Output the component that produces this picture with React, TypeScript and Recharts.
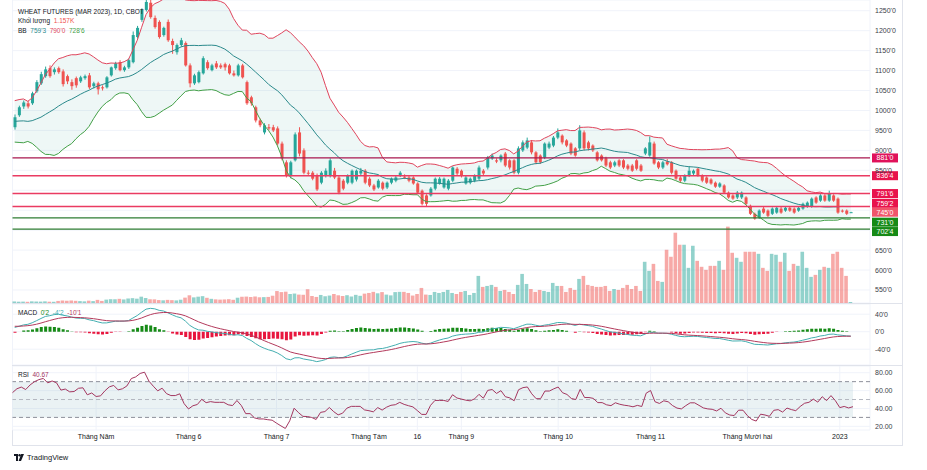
import React from 'react';
import {
  ComposedChart, Bar, Line, Area, XAxis, YAxis, CartesianGrid,
  ReferenceLine, ReferenceArea, Cell,
} from 'recharts';

// daily candles, WH23, 4 Apr 2022 .. 6 Jan 2023 (cents)
const opens = [
  958, 988, 1010, 1018, 1018, 1048, 1068, 1086, 1106, 1096,
  1106, 1098, 1086, 1071, 1081, 1073, 1081, 1088, 1061, 1068,
  1058, 1058, 1088, 1106, 1121, 1101, 1108, 1121, 1184, 1227,
  1252, 1270, 1232, 1222, 1189, 1222, 1174, 1146, 1164, 1169,
  1113, 1068, 1071, 1093, 1121, 1101, 1118, 1113, 1116, 1113,
  1093, 1088, 1113, 1071, 1033, 1008, 975, 945, 958, 958,
  955, 917, 870, 837, 875, 945, 900, 844, 844, 837,
  819, 837, 837, 849, 832, 824, 819, 819, 827, 842,
  849, 829, 812, 807, 819, 807, 819, 824, 837, 834,
  832, 832, 817, 799, 787, 787, 804, 817, 807, 804,
  824, 854, 849, 817, 819, 824, 829, 849, 857, 880,
  875, 875, 892, 875, 875, 844, 900, 907, 920, 895,
  887, 882, 907, 912, 932, 937, 925, 917, 905, 905,
  945, 920, 912, 895, 887, 880, 870, 862, 875, 875,
  862, 862, 875, 862, 892, 887, 917, 870, 857, 872,
  870, 849, 832, 824, 837, 842, 854, 837, 832, 827,
  819, 809, 812, 794, 787, 782, 782, 782, 761, 741,
  731, 754, 749, 741, 744, 754, 749, 756, 754, 749,
  754, 759, 759, 782, 774, 787, 774, 787, 779, 749,
  749, 745,
];
const highs = [
  990, 1012, 1025, 1024, 1047, 1076, 1097, 1110, 1113, 1108,
  1110, 1103, 1090, 1078, 1085, 1087, 1090, 1094, 1072, 1072,
  1063, 1086, 1110, 1122, 1126, 1112, 1130, 1198, 1212, 1256,
  1285, 1285, 1238, 1226, 1210, 1228, 1180, 1168, 1182, 1173,
  1118, 1092, 1100, 1136, 1126, 1117, 1124, 1118, 1120, 1117,
  1100, 1117, 1117, 1075, 1037, 1012, 980, 968, 966, 964,
  960, 922, 875, 874, 945, 958, 905, 850, 848, 842,
  848, 855, 880, 856, 836, 828, 840, 852, 852, 856,
  853, 833, 816, 828, 822, 822, 832, 836, 848, 840,
  836, 835, 820, 802, 790, 808, 832, 833, 832, 828,
  860, 858, 852, 836, 832, 840, 862, 853, 886, 892,
  880, 890, 896, 878, 878, 910, 925, 932, 926, 898,
  890, 920, 922, 936, 955, 940, 928, 920, 908, 963,
  950, 924, 915, 898, 890, 884, 874, 874, 878, 878,
  866, 866, 878, 866, 908, 935, 922, 873, 874, 878,
  873, 852, 836, 840, 860, 852, 857, 840, 835, 830,
  822, 820, 815, 797, 790, 798, 797, 785, 764, 744,
  752, 758, 752, 757, 759, 758, 759, 760, 757, 759,
  769, 772, 782, 785, 790, 790, 799, 790, 782, 752,
  752, 746,
];
const lows = [
  952, 984, 1004, 1005, 1014, 1044, 1064, 1082, 1082, 1090,
  1092, 1060, 1066, 1052, 1057, 1069, 1077, 1054, 1055, 1040,
  1050, 1055, 1085, 1102, 1098, 1097, 1104, 1118, 1180, 1222,
  1248, 1230, 1205, 1180, 1185, 1172, 1142, 1140, 1160, 1110,
  1058, 1064, 1068, 1090, 1102, 1098, 1104, 1104, 1100, 1090,
  1085, 1085, 1080, 1014, 1012, 970, 958, 940, 950, 946,
  912, 875, 832, 830, 872, 885, 840, 836, 825, 798,
  815, 832, 832, 828, 790, 800, 815, 815, 822, 838,
  815, 808, 798, 804, 800, 803, 815, 820, 833, 828,
  820, 814, 790, 762, 760, 784, 800, 814, 804, 800,
  820, 838, 832, 814, 815, 820, 825, 838, 852, 876,
  868, 870, 858, 852, 840, 840, 896, 903, 890, 865,
  866, 878, 903, 908, 928, 915, 908, 888, 884, 900,
  900, 900, 896, 872, 872, 858, 853, 858, 858, 853,
  850, 846, 850, 846, 888, 884, 864, 853, 853, 862,
  840, 826, 820, 820, 833, 838, 834, 820, 816, 814,
  806, 806, 791, 779, 776, 778, 778, 763, 738, 726,
  728, 741, 733, 738, 741, 741, 746, 746, 741, 746,
  751, 756, 756, 766, 771, 771, 771, 771, 741, 744,
  738, 744,
];
const closes = [
  983, 1008, 1020, 1010, 1043, 1071, 1091, 1103, 1086, 1103,
  1096, 1066, 1073, 1061, 1063, 1083, 1086, 1058, 1068, 1053,
  1056, 1083, 1108, 1118, 1101, 1108, 1126, 1189, 1207, 1252,
  1272, 1234, 1209, 1184, 1207, 1176, 1164, 1164, 1176, 1113,
  1068, 1088, 1096, 1131, 1106, 1113, 1108, 1108, 1108, 1093,
  1088, 1113, 1083, 1018, 1018, 975, 963, 963, 955, 950,
  917, 880, 837, 870, 940, 892, 844, 842, 829, 802,
  844, 849, 875, 832, 794, 804, 837, 849, 849, 849,
  819, 812, 802, 824, 804, 819, 829, 832, 844, 832,
  824, 817, 794, 766, 766, 804, 829, 829, 829, 824,
  857, 842, 837, 832, 829, 837, 857, 842, 882, 887,
  872, 887, 862, 857, 844, 905, 920, 925, 895, 870,
  870, 917, 917, 932, 945, 920, 912, 892, 887, 950,
  905, 905, 900, 875, 875, 862, 857, 870, 862, 857,
  854, 849, 854, 849, 905, 920, 867, 857, 870, 865,
  844, 829, 824, 837, 849, 849, 837, 824, 819, 817,
  809, 817, 794, 782, 779, 794, 794, 766, 741, 729,
  749, 744, 736, 754, 756, 744, 756, 749, 744, 756,
  766, 769, 779, 769, 787, 774, 792, 774, 744, 748,
  741, 745,
];
// volume, thousands of contracts
const volumes = [
  1.8, 1.5, 1.6, 1.4, 1.9, 1.7, 1.6, 1.9, 1.5, 1.4,
  2.4, 2.8, 2.6, 2.9, 2.5, 2.2, 1.9, 2.7, 2.2, 3.6,
  2.4, 3.9, 4.4, 4.3, 4.8, 4.1, 5.2, 5.6, 5.0, 7.3,
  5.8, 4.3, 4.2, 3.4, 3.1, 3.6, 3.3, 3.0, 3.8, 6.2,
  8.9, 6.5, 7.3, 7.9, 6.0, 4.8, 4.2, 3.9, 4.1, 4.4,
  3.7, 6.1, 7.2, 7.4, 6.9, 7.5, 6.6, 6.8, 7.0, 8.4,
  13.8, 12.6, 13.1, 10.4, 10.9, 9.7, 9.5, 15.9, 8.1, 7.0,
  9.3, 7.8, 8.6, 10.4, 8.9, 8.1, 9.0, 7.5, 9.4, 8.3,
  10.8, 11.6, 12.9, 11.2, 12.6, 9.7, 8.8, 12.6, 12.9, 12.9,
  11.6, 8.6, 10.4, 17.4, 9.7, 9.3, 12.8, 11.6, 12.8, 15.1,
  11.6, 10.4, 12.8, 13.9, 9.3, 11.6, 31.3, 18.6, 19.7, 20.9,
  18.6, 13.9, 15.1, 12.8, 10.4, 20.9, 33.6, 22.0, 16.2, 12.8,
  15.1, 13.9, 12.8, 23.2, 19.7, 19.7, 12.8, 17.4, 15.1, 27.8,
  31.3, 20.9, 19.7, 18.6, 18.6, 19.7, 13.9, 16.2, 15.1, 17.4,
  20.9, 16.2, 19.7, 13.9, 47.6, 37.1, 45.2, 25.5, 24.4, 61.5,
  53.4, 81.2, 67.3, 67.3, 40.6, 66.1, 48.7, 41.8, 38.3, 42.9,
  42.9, 48.7, 38.3, 88.2, 58.0, 52.2, 47.6, 59.2, 59.2, 59.2,
  56.8, 40.6, 37.1, 56.8, 55.7, 47.6, 58.0, 37.1, 45.2, 42.9,
  59.2, 40.6, 30.2, 32.5, 38.3, 41.8, 40.6, 56.8, 59.2, 40.6,
  31.3, 1.157,
];
// closes before the visible window, estimated from where the bands start
const earlierCloses = [
  850, 858, 846, 862, 875, 869, 884, 893, 880, 898,
  910, 903, 921, 935, 928, 944, 956, 948, 962, 971,
  990, 1012, 1035, 1008, 985, 1002, 968, 955, 972, 940,
  932, 951, 967, 944, 958, 976, 962, 948, 965,
];

const monthTicks = [19, 40, 60, 81, 92, 102, 124, 145, 167, 188];
const monthLabels = ['Tháng Năm', 'Tháng 6', 'Tháng 7', 'Tháng Tám', '16', 'Tháng 9', 'Tháng 10', 'Tháng 11', 'Tháng Mười hai', '2023'];
const priceTicks = [550, 600, 650, 700, 750, 800, 850, 900, 950, 1000, 1050, 1100, 1150, 1200, 1250];
const hiddenPriceLabels = [700, 750, 800];
const levelPrices = [881, 836.5, 791.75, 759.25, 731, 702.5];
const levelLineColors = ['#a8174f', '#ea3b62', '#ea3b62', '#ea3b62', '#2e7d32', '#2e7d32'];
const levelTagColors = ['#e0125a', '#e8144c', '#e8144c', '#e8144c', '#168a16', '#168a16'];
// tags are pushed apart on the axis so they don't overlap
const levelTagShift = [0, 0, 0, -3.2, 4.4, 2.4];
const lastPrice = 745;

const FONT = '"Liberation Sans", Arial, sans-serif';
const TEXT = '#131722';
const UP = '#26a69a';
const DOWN = '#ef5350';
const W = 927;
const MARGIN = { top: 0, right: 25, bottom: 0, left: 12.5 };
const PAD = { left: 0, right: 17 };

const fmtQ = (v: number) => {
  const w = Math.floor(v + 1e-9);
  return `${w}'${Math.round((v - w) * 8)}`;
};

// indicators
const all = [...earlierCloses, ...closes];
const off = earlierCloses.length;
const ema = (src: number[], n: number) => {
  const a = 2 / (n + 1);
  const out: number[] = [];
  src.forEach((v, i) => out.push(i === 0 ? v : a * v + (1 - a) * out[i - 1]));
  return out;
};
const e12 = ema(all, 12);
const e26 = ema(all, 26);
const macdAll = all.map((_, i) => e12[i] - e26[i]);
const sigAll = ema(macdAll, 9);
const rsiAll: number[] = [50];
let ag = 0;
let al = 0;
for (let i = 1; i < all.length; i++) {
  const ch = all[i] - all[i - 1];
  const g = Math.max(ch, 0);
  const d = Math.max(-ch, 0);
  if (i <= 14) { ag += g / 14; al += d / 14; } else { ag = (ag * 13 + g) / 14; al = (al * 13 + d) / 14; }
  rsiAll.push(al === 0 ? 100 : 100 - 100 / (1 + ag / al));
}

const data = closes.map((c, i) => {
  const p = off + i;
  const win = all.slice(p - 19, p + 1);
  const m = win.reduce((s, v) => s + v, 0) / win.length;
  const sd = Math.sqrt(win.reduce((s, v) => s + (v - m) * (v - m), 0) / win.length);
  const macd = macdAll[p];
  const signal = sigAll[p];
  return {
    i, o: opens[i], h: highs[i], l: lows[i], c,
    range: [lows[i], highs[i]],
    vol: volumes[i], up: c >= opens[i],
    bbM: m, bbU: m + 2 * sd, bbL: m - 2 * sd, bb: [m - 2 * sd, m + 2 * sd],
    macd, signal, hist: macd - signal, rsi: rsiAll[p],
  };
});

const Candle = (props: any) => {
  const { x, y, width, height } = props;
  const p = props.payload ?? props;
  if (x == null || y == null || height == null) return null;
  const top = Math.min(y, y + height);
  const span = Math.abs(height);
  const k = p.h === p.l ? 0 : span / (p.h - p.l);
  const yO = top + (p.h - p.o) * k;
  const yC = top + (p.h - p.c) * k;
  const color = p.c >= p.o ? UP : DOWN;
  const cx = x + width / 2;
  return (
    <g>
      <line x1={cx} x2={cx} y1={top} y2={top + span} stroke={color} strokeWidth={1} />
      <rect x={x} y={Math.min(yO, yC)} width={width} height={Math.max(1, Math.abs(yO - yC))} fill={color} />
    </g>
  );
};

const PriceTag = ({ viewBox, text, color, shift = 0 }: any) => {
  if (!viewBox) return null;
  const x = viewBox.x + viewBox.width + 2;
  const y = viewBox.y + shift;
  return (
    <g>
      <rect x={x} y={y - 4.5} width={26} height={9} fill={color} />
      <text x={x + 13} y={y + 2.4} textAnchor="middle" fontSize={7} fill="#fff" fontFamily={FONT}>{text}</text>
    </g>
  );
};

const axisTick = { fontSize: 7, fill: '#3b3e48', fontFamily: FONT };

const xAxisProps = {
  dataKey: 'i',
  type: 'category' as const,
  ticks: monthTicks,
  interval: 0 as const,
  padding: PAD,
  tickLine: false,
  axisLine: false,
};

const txt = (top: number, left: number, children: React.ReactNode) => (
  <div style={{ position: 'absolute', top, left, fontSize: 6.5, lineHeight: '9px', color: TEXT, whiteSpace: 'nowrap' }}>
    {children}
  </div>
);

export default function App() {
  return (
    <div style={{ position: 'absolute', left: 0, top: 0, width: W, height: 470, background: '#fff', fontFamily: FONT, overflow: 'hidden' }}>
      {/* frame and panel separators */}
      <div style={{ position: 'absolute', left: 12, top: 0, width: 889, height: 445, borderLeft: '1px solid #e0e3eb', borderRight: '1px solid #e0e3eb', borderBottom: '1px solid #e0e3eb' }} />
      <div style={{ position: 'absolute', left: 13, top: 303, width: 889, height: 1, background: '#e0e3eb' }} />
      <div style={{ position: 'absolute', left: 13, top: 365, width: 889, height: 1, background: '#e0e3eb' }} />

      <div style={{ position: 'absolute', left: 0, top: 0 }}>
        <ComposedChart width={W} height={303} data={data} margin={MARGIN}>
          <CartesianGrid xAxisId="a" yAxisId="p" stroke="#f0f3fa" />
          <XAxis xAxisId="a" {...xAxisProps} height={0} tick={false} />
          <XAxis xAxisId="v" {...xAxisProps} hide />
          <YAxis
            yAxisId="p" orientation="right" width={32} domain={[517.4, 1276.9]} allowDataOverflow
            ticks={priceTicks} interval={0} tickLine={false} axisLine={false} tickSize={0} tickMargin={5}
            tick={axisTick} tickFormatter={(v: number) => (hiddenPriceLabels.includes(v) ? '' : `${v}'0`)}
          />
          <YAxis yAxisId="vol" hide domain={[0, 350]} />
          <Bar xAxisId="v" yAxisId="vol" dataKey="vol" barSize={3.6} isAnimationActive={false}>
            {data.map((d) => (
              <Cell key={d.i} fill={d.up ? 'rgba(38,166,154,0.5)' : 'rgba(239,83,80,0.5)'} />
            ))}
          </Bar>
          <Area xAxisId="a" yAxisId="p" dataKey="bb" stroke="none" fill="#2a9d8f" fillOpacity={0.08} isAnimationActive={false} />
          <Line xAxisId="a" yAxisId="p" dataKey="bbU" stroke="#e0455d" strokeWidth={1} dot={false} isAnimationActive={false} />
          <Line xAxisId="a" yAxisId="p" dataKey="bbM" stroke="#2b8a8c" strokeWidth={1} dot={false} isAnimationActive={false} />
          <Line xAxisId="a" yAxisId="p" dataKey="bbL" stroke="#43a047" strokeWidth={1} dot={false} isAnimationActive={false} />
          <Bar xAxisId="a" yAxisId="p" dataKey="range" barSize={3} shape={Candle} isAnimationActive={false} />
          {levelPrices.map((v, k) => (
            <ReferenceLine
              key={v} xAxisId="a" yAxisId="p" y={v} stroke={levelLineColors[k]} strokeWidth={k > 0 && k < 4 ? 1.6 : 1.2}
              label={<PriceTag text={fmtQ(v)} color={levelTagColors[k]} shift={levelTagShift[k]} />}
            />
          ))}
          <ReferenceLine xAxisId="a" yAxisId="p" y={lastPrice} stroke="none" label={<PriceTag text={fmtQ(lastPrice)} color="#f0566b" />} />
        </ComposedChart>
      </div>

      <div style={{ position: 'absolute', left: 0, top: 304 }}>
        <ComposedChart width={W} height={61} data={data} margin={MARGIN}>
          <CartesianGrid xAxisId="a" yAxisId="m" stroke="#f0f3fa" />
          <XAxis xAxisId="a" {...xAxisProps} height={0} tick={false} />
          <YAxis
            yAxisId="m" orientation="right" width={32} domain={[-76.1, 63.3]} allowDataOverflow
            ticks={[-40, 0, 40]} interval={0} tickLine={false} axisLine={false} tickSize={0} tickMargin={5}
            tick={axisTick} tickFormatter={(v: number) => `${v}'0`}
          />
          <Bar xAxisId="a" yAxisId="m" dataKey="hist" barSize={3} isAnimationActive={false}>
            {data.map((d) => (
              <Cell key={d.i} fill={d.hist >= 0 ? '#168a16' : '#e8163e'} />
            ))}
          </Bar>
          <Line xAxisId="a" yAxisId="m" dataKey="macd" stroke="#44aeb0" strokeWidth={1} dot={false} isAnimationActive={false} />
          <Line xAxisId="a" yAxisId="m" dataKey="signal" stroke="#b33a5c" strokeWidth={1} dot={false} isAnimationActive={false} />
        </ComposedChart>
      </div>

      <div style={{ position: 'absolute', left: 0, top: 366 }}>
        <ComposedChart width={W} height={80} data={data} margin={MARGIN}>
          <CartesianGrid xAxisId="a" yAxisId="r" stroke="#f0f3fa" />
          <XAxis
            xAxisId="a" {...xAxisProps} height={16} tickSize={0} tickMargin={4}
            tick={{ fontSize: 7, fill: TEXT, fontFamily: FONT }}
            tickFormatter={(v: number) => monthLabels[monthTicks.indexOf(v)] ?? ''}
          />
          <YAxis
            yAxisId="r" orientation="right" width={32} domain={[15.9, 87.5]} allowDataOverflow
            ticks={[20, 40, 60, 80]} interval={0} tickLine={false} axisLine={false} tickSize={0} tickMargin={5}
            tick={axisTick} tickFormatter={(v: number) => v.toFixed(2)}
          />
          <ReferenceArea xAxisId="a" yAxisId="r" y1={30} y2={70} fill="#9fc3cf" fillOpacity={0.22} stroke="none" />
          <ReferenceLine xAxisId="a" yAxisId="r" y={70} stroke="#8d909a" strokeDasharray="4 3" />
          <ReferenceLine xAxisId="a" yAxisId="r" y={50} stroke="#b3b6bf" strokeDasharray="4 3" />
          <ReferenceLine xAxisId="a" yAxisId="r" y={30} stroke="#8d909a" strokeDasharray="4 3" />
          <Line xAxisId="a" yAxisId="r" dataKey="rsi" stroke="#a3365f" strokeWidth={1} dot={false} isAnimationActive={false} />
        </ComposedChart>
      </div>

      {/* legends */}
      {txt(7, 18, <span>WHEAT FUTURES (MAR 2023), 1D, CBOT</span>)}
      {txt(16, 18, <span>Khối lượng&nbsp; <span style={{ color: DOWN }}>1.157K</span></span>)}
      {txt(26, 18, <span>BB&nbsp; <span style={{ color: '#2b8a8c' }}>759'3</span>&nbsp; <span style={{ color: '#e0455d' }}>790'0</span>&nbsp; <span style={{ color: '#43a047' }}>728'6</span></span>)}
      {txt(308, 18, <span>MACD&nbsp; <span style={{ color: '#168a16' }}>0'2</span>&nbsp; <span style={{ color: '#44aeb0' }}>-4'2</span>&nbsp; <span style={{ color: '#b33a5c' }}>-10'1</span></span>)}
      {txt(370, 18, <span>RSI&nbsp; <span style={{ color: '#a3365f' }}>40.67</span></span>)}

      <div style={{ position: 'absolute', left: 14, top: 453, display: 'flex', alignItems: 'center', gap: 3, fontSize: 7.5, color: TEXT }}>
        <svg width={10} height={7} viewBox="0 0 10 7">
          <path d="M0 0 H4 V7 H2 V2 H0 Z" fill={TEXT} />
          <circle cx={5.6} cy={1.2} r={1.2} fill={TEXT} />
          <path d="M7.2 0 H10 L7 7 H4.6 Z" fill={TEXT} />
        </svg>
        <span>TradingView</span>
      </div>
    </div>
  );
}
